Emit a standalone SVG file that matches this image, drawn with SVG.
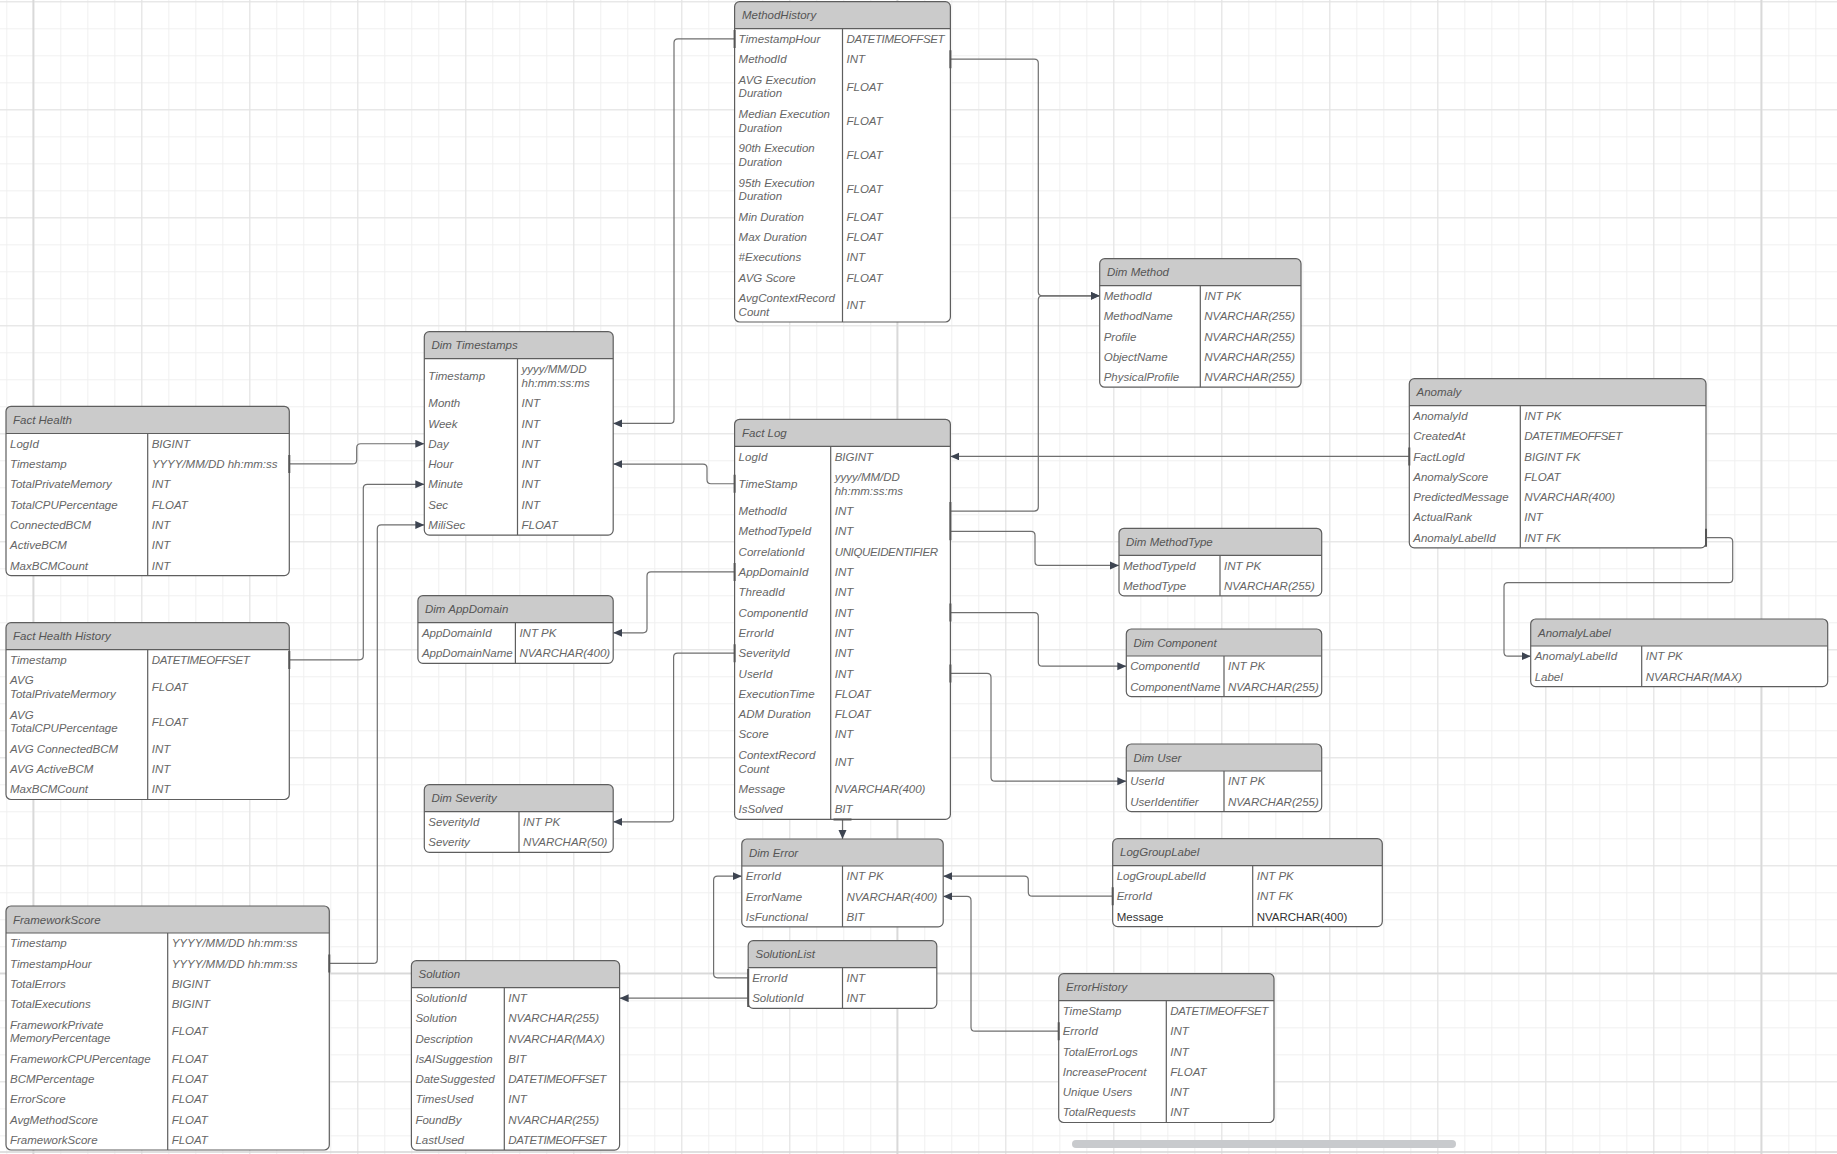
<svg xmlns="http://www.w3.org/2000/svg" width="1837" height="1154" viewBox="0 0 1837 1154">
<style>
.bg{fill:#fff}
.ol{fill:none;stroke:#5e5e5e;stroke-width:1.2}
.hd{fill:#cbcbcb}
.ln{stroke:#5e5e5e;stroke-width:1.2;fill:none}
.ht{font-family:"Liberation Sans",Arial,sans-serif;font-size:11.5px;font-style:italic;fill:#555}
.t text{font-family:"Liberation Sans",Arial,sans-serif;font-size:11.5px;font-style:italic;fill:#666}
.t text.n{font-style:normal;fill:#333}
.t text.c{letter-spacing:-0.35px}
.cn{fill:none;stroke:#6f6f6f;stroke-width:1.2;marker-end:url(#arr)}
.tk{stroke:#555;stroke-width:2}
</style>
<defs>
<pattern id="minor" width="27" height="27" patternUnits="userSpaceOnUse" x="6.3" y="1.3">
<path d="M0,0.5 H27 M0.5,0 V27" stroke="#f0f0f0" stroke-width="1" fill="none"/>
</pattern>
<pattern id="major" width="108" height="108" patternUnits="userSpaceOnUse" x="33.3" y="1.3">
<path d="M0,0.5 H108 M0.5,0 V108" stroke="#e3e3e3" stroke-width="1" fill="none"/>
</pattern>
<marker id="arr" markerWidth="10" markerHeight="9" refX="9" refY="4" orient="auto" markerUnits="userSpaceOnUse">
<path d="M0,0 L9,4 L0,8 Z" fill="#3d4451"/>
</marker>
</defs>
<rect width="1837" height="1154" fill="#fff"/>
<rect width="1837" height="1154" fill="url(#minor)"/>
<rect width="1837" height="1154" fill="url(#major)"/>
<path d="M33.3,0 V1154 M897.3,0 V1154 M1761.3,0 V1154 M0,973.3 H1837" stroke="#d9d9d9" stroke-width="1.8"/>
<path d="M0,1152 H1837" stroke="#d6d6d6" stroke-width="1.5"/>
<rect x="1072" y="1140" width="384" height="8" rx="4" fill="#c8cacd"/>

<g id="connectors">
<path class="cn" d="M734.6,38.85 H678 Q674,38.85 674,42.85 V419.45 Q674,423.45 670,423.45 H613.2"/>
<path class="cn" d="M950.4,59.15 H1034.3 Q1038.3,59.15 1038.3,63.15 V291.85 Q1038.3,295.85 1042.3,295.85 H1099.7"/>
<path class="cn" d="M950.4,511.05 H1034.3 Q1038.3,511.05 1038.3,507.05 V299.85 Q1038.3,295.85 1042.3,295.85 H1099.7"/>
<path class="cn" d="M289.3,463.95 H352.7 Q356.7,463.95 356.7,459.95 V447.75 Q356.7,443.75 360.7,443.75 H424.3"/>
<path class="cn" d="M289.3,659.85 H359.3 Q363.3,659.85 363.3,655.85 V488.35 Q363.3,484.35 367.3,484.35 H424.3"/>
<path class="cn" d="M329.3,963.45 H373.3 Q377.3,963.45 377.3,959.45 V528.95 Q377.3,524.95 381.3,524.95 H424.3"/>
<path class="cn" d="M734.6,483.75 H711 Q707,483.75 707,479.75 V468.05 Q707,464.05 703,464.05 H613.2"/>
<path class="cn" d="M734.6,571.95 H651 Q647,571.95 647,575.95 V628.85 Q647,632.85 643,632.85 H613.2"/>
<path class="cn" d="M734.6,653.15 H677.6 Q673.6,653.15 673.6,657.15 V817.85 Q673.6,821.85 669.6,821.85 H613.2"/>
<path class="cn" d="M1409.3,456.45 H950.4"/>
<path class="cn" d="M950.4,531.35 H1031 Q1035,531.35 1035,535.35 V561.45 Q1035,565.45 1039,565.45 H1119"/>
<path class="cn" d="M950.4,612.55 H1034.3 Q1038.3,612.55 1038.3,616.55 V662.15 Q1038.3,666.15 1042.3,666.15 H1126.3"/>
<path class="cn" d="M950.4,673.45 H987 Q991,673.45 991,677.45 V777.15 Q991,781.15 995,781.15 H1126.3"/>
<path class="cn" d="M842.5,819.4 V839"/>
<path class="cn" d="M1706,537.65 H1728.7 Q1732.7,537.65 1732.7,541.65 V578.7 Q1732.7,582.7 1728.7,582.7 H1508 Q1504,582.7 1504,586.7 V652.15 Q1504,656.15 1508,656.15 H1530.7"/>
<path class="cn" d="M748.2,977.85 H717.6 Q713.6,977.85 713.6,973.85 V880.15 Q713.6,876.15 717.6,876.15 H741.8"/>
<path class="cn" d="M748.2,998.15 H619.6"/>
<path class="cn" d="M1112.7,896.15 H1032.3 Q1028.3,896.15 1028.3,892.15 V880.15 Q1028.3,876.15 1024.3,876.15 H943.2"/>
<path class="cn" d="M1058.7,1031.15 H975 Q971,1031.15 971,1027.15 V900.45 Q971,896.45 967,896.45 H943.2"/>
</g>

<g id="MethodHistory">
<rect class="bg" x="734.6" y="1.7" width="215.8" height="320.3" rx="5"/>
<path class="hd" d="M734.6,28.7 V6.7 Q734.6,1.7 739.6,1.7 H945.4 Q950.4,1.7 950.4,6.7 V28.7 Z"/>
<rect class="ol" x="734.6" y="1.7" width="215.8" height="320.3" rx="5"/>
<path class="ln" d="M734.6,28.7 H950.4 M842.5,28.7 V322"/>
<text class="ht" x="742" y="19.2">MethodHistory</text>
<g class="t">
<text x="738.6" y="42.9">TimestampHour</text><text class="c" x="846.5" y="42.9">DATETIMEOFFSET</text>
<text x="738.6" y="63.2">MethodId</text><text x="846.5" y="63.2">INT</text>
<text x="738.6" y="83.6">AVG Execution</text><text x="738.6" y="97.3">Duration</text><text x="846.5" y="90.5">FLOAT</text>
<text x="738.6" y="117.9">Median Execution</text><text x="738.6" y="131.6">Duration</text><text x="846.5" y="124.8">FLOAT</text>
<text x="738.6" y="152.2">90th Execution</text><text x="738.6" y="165.9">Duration</text><text x="846.5" y="159.1">FLOAT</text>
<text x="738.6" y="186.5">95th Execution</text><text x="738.6" y="200.2">Duration</text><text x="846.5" y="193.4">FLOAT</text>
<text x="738.6" y="220.7">Min Duration</text><text x="846.5" y="220.7">FLOAT</text>
<text x="738.6" y="241">Max Duration</text><text x="846.5" y="241">FLOAT</text>
<text x="738.6" y="261.3">#Executions</text><text x="846.5" y="261.3">INT</text>
<text x="738.6" y="281.6">AVG Score</text><text x="846.5" y="281.6">FLOAT</text>
<text x="738.6" y="302">AvgContextRecord</text><text x="738.6" y="315.7">Count</text><text x="846.5" y="308.9">INT</text>
</g>
</g>

<g id="DimMethod">
<rect class="bg" x="1099.7" y="258.7" width="201.3" height="128.5" rx="5"/>
<path class="hd" d="M1099.7,285.7 V263.7 Q1099.7,258.7 1104.7,258.7 H1296 Q1301,258.7 1301,263.7 V285.7 Z"/>
<rect class="ol" x="1099.7" y="258.7" width="201.3" height="128.5" rx="5"/>
<path class="ln" d="M1099.7,285.7 H1301 M1200.3,285.7 V387.2"/>
<text class="ht" x="1107" y="276.2">Dim Method</text>
<g class="t">
<text x="1103.7" y="299.9">MethodId</text><text x="1204.3" y="299.9">INT PK</text>
<text x="1103.7" y="320.2">MethodName</text><text x="1204.3" y="320.2">NVARCHAR(255)</text>
<text x="1103.7" y="340.5">Profile</text><text x="1204.3" y="340.5">NVARCHAR(255)</text>
<text x="1103.7" y="360.8">ObjectName</text><text x="1204.3" y="360.8">NVARCHAR(255)</text>
<text x="1103.7" y="381.1">PhysicalProfile</text><text x="1204.3" y="381.1">NVARCHAR(255)</text>
</g>
</g>

<g id="DimTimestamps">
<rect class="bg" x="424.3" y="331.7" width="188.9" height="203.4" rx="5"/>
<path class="hd" d="M424.3,358.7 V336.7 Q424.3,331.7 429.3,331.7 H608.2 Q613.2,331.7 613.2,336.7 V358.7 Z"/>
<rect class="ol" x="424.3" y="331.7" width="188.9" height="203.4" rx="5"/>
<path class="ln" d="M424.3,358.7 H613.2 M517.5,358.7 V535.1"/>
<text class="ht" x="431.5" y="349.2">Dim Timestamps</text>
<g class="t">
<text x="428.3" y="379.9">Timestamp</text><text x="521.5" y="373">yyyy/MM/DD</text><text x="521.5" y="386.7">hh:mm:ss:ms</text>
<text x="428.3" y="407.2">Month</text><text x="521.5" y="407.2">INT</text>
<text x="428.3" y="427.5">Week</text><text x="521.5" y="427.5">INT</text>
<text x="428.3" y="447.8">Day</text><text x="521.5" y="447.8">INT</text>
<text x="428.3" y="468.1">Hour</text><text x="521.5" y="468.1">INT</text>
<text x="428.3" y="488.4">Minute</text><text x="521.5" y="488.4">INT</text>
<text x="428.3" y="508.7">Sec</text><text x="521.5" y="508.7">INT</text>
<text x="428.3" y="529">MiliSec</text><text x="521.5" y="529">FLOAT</text>
</g>
</g>

<g id="FactHealth">
<rect class="bg" x="6" y="406.3" width="283.3" height="169.3" rx="5"/>
<path class="hd" d="M6,433.5 V411.3 Q6,406.3 11,406.3 H284.3 Q289.3,406.3 289.3,411.3 V433.5 Z"/>
<rect class="ol" x="6" y="406.3" width="283.3" height="169.3" rx="5"/>
<path class="ln" d="M6,433.5 H289.3 M147.7,433.5 V575.6"/>
<text class="ht" x="13" y="423.8">Fact Health</text>
<g class="t">
<text x="10" y="447.7">LogId</text><text x="151.7" y="447.7">BIGINT</text>
<text x="10" y="468">Timestamp</text><text x="151.7" y="468">YYYY/MM/DD hh:mm:ss</text>
<text x="10" y="488.3">TotalPrivateMemory</text><text x="151.7" y="488.3">INT</text>
<text x="10" y="508.6">TotalCPUPercentage</text><text x="151.7" y="508.6">FLOAT</text>
<text x="10" y="528.9">ConnectedBCM</text><text x="151.7" y="528.9">INT</text>
<text x="10" y="549.2">ActiveBCM</text><text x="151.7" y="549.2">INT</text>
<text x="10" y="569.5">MaxBCMCount</text><text x="151.7" y="569.5">INT</text>
</g>
</g>

<g id="FactHealthHistory">
<rect class="bg" x="6" y="622.7" width="283.3" height="176.8" rx="5"/>
<path class="hd" d="M6,649.7 V627.7 Q6,622.7 11,622.7 H284.3 Q289.3,622.7 289.3,627.7 V649.7 Z"/>
<rect class="ol" x="6" y="622.7" width="283.3" height="176.8" rx="5"/>
<path class="ln" d="M6,649.7 H289.3 M147.7,649.7 V799.5"/>
<text class="ht" x="13" y="640.2">Fact Health History</text>
<g class="t">
<text x="10" y="663.9">Timestamp</text><text class="c" x="151.7" y="663.9">DATETIMEOFFSET</text>
<text x="10" y="684.3">AVG</text><text x="10" y="698">TotalPrivateMermory</text><text x="151.7" y="691.2">FLOAT</text>
<text x="10" y="718.6">AVG</text><text x="10" y="732.3">TotalCPUPercentage</text><text x="151.7" y="725.5">FLOAT</text>
<text x="10" y="752.8">AVG ConnectedBCM</text><text x="151.7" y="752.8">INT</text>
<text x="10" y="773.1">AVG ActiveBCM</text><text x="151.7" y="773.1">INT</text>
<text x="10" y="793.4">MaxBCMCount</text><text x="151.7" y="793.4">INT</text>
</g>
</g>

<g id="FrameworkScore">
<rect class="bg" x="6" y="906" width="323.3" height="244" rx="5"/>
<path class="hd" d="M6,933 V911 Q6,906 11,906 H324.3 Q329.3,906 329.3,911 V933 Z"/>
<rect class="ol" x="6" y="906" width="323.3" height="244" rx="5"/>
<path class="ln" d="M6,933 H329.3 M167.7,933 V1150"/>
<text class="ht" x="13" y="923.5">FrameworkScore</text>
<g class="t">
<text x="10" y="947.2">Timestamp</text><text x="171.7" y="947.2">YYYY/MM/DD hh:mm:ss</text>
<text x="10" y="967.5">TimestampHour</text><text x="171.7" y="967.5">YYYY/MM/DD hh:mm:ss</text>
<text x="10" y="987.8">TotalErrors</text><text x="171.7" y="987.8">BIGINT</text>
<text x="10" y="1008.1">TotalExecutions</text><text x="171.7" y="1008.1">BIGINT</text>
<text x="10" y="1028.5">FrameworkPrivate</text><text x="10" y="1042.2">MemoryPercentage</text><text x="171.7" y="1035.4">FLOAT</text>
<text x="10" y="1062.7">FrameworkCPUPercentage</text><text x="171.7" y="1062.7">FLOAT</text>
<text x="10" y="1083">BCMPercentage</text><text x="171.7" y="1083">FLOAT</text>
<text x="10" y="1103.3">ErrorScore</text><text x="171.7" y="1103.3">FLOAT</text>
<text x="10" y="1123.6">AvgMethodScore</text><text x="171.7" y="1123.6">FLOAT</text>
<text x="10" y="1143.9">FrameworkScore</text><text x="171.7" y="1143.9">FLOAT</text>
</g>
</g>

<g id="FactLog">
<rect class="bg" x="734.6" y="419.3" width="215.8" height="400.1" rx="5"/>
<path class="hd" d="M734.6,446.3 V424.3 Q734.6,419.3 739.6,419.3 H945.4 Q950.4,419.3 950.4,424.3 V446.3 Z"/>
<rect class="ol" x="734.6" y="419.3" width="215.8" height="400.1" rx="5"/>
<path class="ln" d="M734.6,446.3 H950.4 M830.7,446.3 V819.4"/>
<text class="ht" x="742" y="436.8">Fact Log</text>
<g class="t">
<text x="738.6" y="460.5">LogId</text><text x="834.7" y="460.5">BIGINT</text>
<text x="738.6" y="487.8">TimeStamp</text><text x="834.7" y="480.9">yyyy/MM/DD</text><text x="834.7" y="494.6">hh:mm:ss:ms</text>
<text x="738.6" y="515.1">MethodId</text><text x="834.7" y="515.1">INT</text>
<text x="738.6" y="535.4">MethodTypeId</text><text x="834.7" y="535.4">INT</text>
<text x="738.6" y="555.7">CorrelationId</text><text class="c" x="834.7" y="555.7">UNIQUEIDENTIFIER</text>
<text x="738.6" y="576">AppDomainId</text><text x="834.7" y="576">INT</text>
<text x="738.6" y="596.3">ThreadId</text><text x="834.7" y="596.3">INT</text>
<text x="738.6" y="616.6">ComponentId</text><text x="834.7" y="616.6">INT</text>
<text x="738.6" y="636.9">ErrorId</text><text x="834.7" y="636.9">INT</text>
<text x="738.6" y="657.2">SeverityId</text><text x="834.7" y="657.2">INT</text>
<text x="738.6" y="677.5">UserId</text><text x="834.7" y="677.5">INT</text>
<text x="738.6" y="697.8">ExecutionTime</text><text x="834.7" y="697.8">FLOAT</text>
<text x="738.6" y="718.1">ADM Duration</text><text x="834.7" y="718.1">FLOAT</text>
<text x="738.6" y="738.4">Score</text><text x="834.7" y="738.4">INT</text>
<text x="738.6" y="758.8">ContextRecord</text><text x="738.6" y="772.5">Count</text><text x="834.7" y="765.7">INT</text>
<text x="738.6" y="793">Message</text><text x="834.7" y="793">NVARCHAR(400)</text>
<text x="738.6" y="813.3">IsSolved</text><text x="834.7" y="813.3">BIT</text>
</g>
</g>

<g id="DimMethodType">
<rect class="bg" x="1119" y="528.3" width="202.7" height="67.6" rx="5"/>
<path class="hd" d="M1119,555.3 V533.3 Q1119,528.3 1124,528.3 H1316.7 Q1321.7,528.3 1321.7,533.3 V555.3 Z"/>
<rect class="ol" x="1119" y="528.3" width="202.7" height="67.6" rx="5"/>
<path class="ln" d="M1119,555.3 H1321.7 M1220,555.3 V595.9"/>
<text class="ht" x="1126" y="545.8">Dim MethodType</text>
<g class="t">
<text x="1123" y="569.5">MethodTypeId</text><text x="1224" y="569.5">INT PK</text>
<text x="1123" y="589.8">MethodType</text><text x="1224" y="589.8">NVARCHAR(255)</text>
</g>
</g>

<g id="DimComponent">
<rect class="bg" x="1126.3" y="629" width="195.4" height="67.6" rx="5"/>
<path class="hd" d="M1126.3,656 V634 Q1126.3,629 1131.3,629 H1316.7 Q1321.7,629 1321.7,634 V656 Z"/>
<rect class="ol" x="1126.3" y="629" width="195.4" height="67.6" rx="5"/>
<path class="ln" d="M1126.3,656 H1321.7 M1224,656 V696.6"/>
<text class="ht" x="1133.5" y="646.5">Dim Component</text>
<g class="t">
<text x="1130.3" y="670.2">ComponentId</text><text x="1228" y="670.2">INT PK</text>
<text x="1130.3" y="690.5">ComponentName</text><text x="1228" y="690.5">NVARCHAR(255)</text>
</g>
</g>

<g id="DimUser">
<rect class="bg" x="1126.3" y="744" width="195.4" height="67.6" rx="5"/>
<path class="hd" d="M1126.3,771 V749 Q1126.3,744 1131.3,744 H1316.7 Q1321.7,744 1321.7,749 V771 Z"/>
<rect class="ol" x="1126.3" y="744" width="195.4" height="67.6" rx="5"/>
<path class="ln" d="M1126.3,771 H1321.7 M1224,771 V811.6"/>
<text class="ht" x="1133.5" y="761.5">Dim User</text>
<g class="t">
<text x="1130.3" y="785.2">UserId</text><text x="1228" y="785.2">INT PK</text>
<text x="1130.3" y="805.5">UserIdentifier</text><text x="1228" y="805.5">NVARCHAR(255)</text>
</g>
</g>

<g id="Anomaly">
<rect class="bg" x="1409.3" y="378.7" width="296.7" height="169.1" rx="5"/>
<path class="hd" d="M1409.3,405.7 V383.7 Q1409.3,378.7 1414.3,378.7 H1701 Q1706,378.7 1706,383.7 V405.7 Z"/>
<rect class="ol" x="1409.3" y="378.7" width="296.7" height="169.1" rx="5"/>
<path class="ln" d="M1409.3,405.7 H1706 M1520.3,405.7 V547.8"/>
<text class="ht" x="1416.5" y="396.2">Anomaly</text>
<g class="t">
<text x="1413.3" y="419.9">AnomalyId</text><text x="1524.3" y="419.9">INT PK</text>
<text x="1413.3" y="440.2">CreatedAt</text><text class="c" x="1524.3" y="440.2">DATETIMEOFFSET</text>
<text x="1413.3" y="460.5">FactLogId</text><text x="1524.3" y="460.5">BIGINT FK</text>
<text x="1413.3" y="480.8">AnomalyScore</text><text x="1524.3" y="480.8">FLOAT</text>
<text x="1413.3" y="501.1">PredictedMessage</text><text x="1524.3" y="501.1">NVARCHAR(400)</text>
<text x="1413.3" y="521.4">ActualRank</text><text x="1524.3" y="521.4">INT</text>
<text x="1413.3" y="541.7">AnomalyLabelId</text><text x="1524.3" y="541.7">INT FK</text>
</g>
</g>

<g id="AnomalyLabel">
<rect class="bg" x="1530.7" y="619" width="297" height="67.6" rx="5"/>
<path class="hd" d="M1530.7,646 V624 Q1530.7,619 1535.7,619 H1822.7 Q1827.7,619 1827.7,624 V646 Z"/>
<rect class="ol" x="1530.7" y="619" width="297" height="67.6" rx="5"/>
<path class="ln" d="M1530.7,646 H1827.7 M1641.7,646 V686.6"/>
<text class="ht" x="1538" y="636.5">AnomalyLabel</text>
<g class="t">
<text x="1534.7" y="660.2">AnomalyLabelId</text><text x="1645.7" y="660.2">INT PK</text>
<text x="1534.7" y="680.5">Label</text><text x="1645.7" y="680.5">NVARCHAR(MAX)</text>
</g>
</g>

<g id="DimAppDomain">
<rect class="bg" x="417.9" y="595.7" width="195.3" height="67.6" rx="5"/>
<path class="hd" d="M417.9,622.7 V600.7 Q417.9,595.7 422.9,595.7 H608.2 Q613.2,595.7 613.2,600.7 V622.7 Z"/>
<rect class="ol" x="417.9" y="595.7" width="195.3" height="67.6" rx="5"/>
<path class="ln" d="M417.9,622.7 H613.2 M515.4,622.7 V663.3"/>
<text class="ht" x="425" y="613.2">Dim AppDomain</text>
<g class="t">
<text x="421.9" y="636.9">AppDomainId</text><text x="519.4" y="636.9">INT PK</text>
<text x="421.9" y="657.2">AppDomainName</text><text x="519.4" y="657.2">NVARCHAR(400)</text>
</g>
</g>

<g id="DimSeverity">
<rect class="bg" x="424.3" y="784.7" width="188.9" height="67.6" rx="5"/>
<path class="hd" d="M424.3,811.7 V789.7 Q424.3,784.7 429.3,784.7 H608.2 Q613.2,784.7 613.2,789.7 V811.7 Z"/>
<rect class="ol" x="424.3" y="784.7" width="188.9" height="67.6" rx="5"/>
<path class="ln" d="M424.3,811.7 H613.2 M519,811.7 V852.3"/>
<text class="ht" x="431.5" y="802.2">Dim Severity</text>
<g class="t">
<text x="428.3" y="825.9">SeverityId</text><text x="523" y="825.9">INT PK</text>
<text x="428.3" y="846.2">Severity</text><text x="523" y="846.2">NVARCHAR(50)</text>
</g>
</g>

<g id="DimError">
<rect class="bg" x="741.8" y="839" width="201.4" height="87.9" rx="5"/>
<path class="hd" d="M741.8,866 V844 Q741.8,839 746.8,839 H938.2 Q943.2,839 943.2,844 V866 Z"/>
<rect class="ol" x="741.8" y="839" width="201.4" height="87.9" rx="5"/>
<path class="ln" d="M741.8,866 H943.2 M842.5,866 V926.9"/>
<text class="ht" x="749" y="856.5">Dim Error</text>
<g class="t">
<text x="745.8" y="880.2">ErrorId</text><text x="846.5" y="880.2">INT PK</text>
<text x="745.8" y="900.5">ErrorName</text><text x="846.5" y="900.5">NVARCHAR(400)</text>
<text x="745.8" y="920.8">IsFunctional</text><text x="846.5" y="920.8">BIT</text>
</g>
</g>

<g id="SolutionList">
<rect class="bg" x="748.2" y="940.7" width="188.6" height="67.6" rx="5"/>
<path class="hd" d="M748.2,967.7 V945.7 Q748.2,940.7 753.2,940.7 H931.8 Q936.8,940.7 936.8,945.7 V967.7 Z"/>
<rect class="ol" x="748.2" y="940.7" width="188.6" height="67.6" rx="5"/>
<path class="ln" d="M748.2,967.7 H936.8 M842.5,967.7 V1008.3"/>
<text class="ht" x="755.5" y="958.2">SolutionList</text>
<g class="t">
<text x="752.2" y="981.9">ErrorId</text><text x="846.5" y="981.9">INT</text>
<text x="752.2" y="1002.2">SolutionId</text><text x="846.5" y="1002.2">INT</text>
</g>
</g>

<g id="Solution">
<rect class="bg" x="411.4" y="960.7" width="208.2" height="189.4" rx="5"/>
<path class="hd" d="M411.4,987.7 V965.7 Q411.4,960.7 416.4,960.7 H614.6 Q619.6,960.7 619.6,965.7 V987.7 Z"/>
<rect class="ol" x="411.4" y="960.7" width="208.2" height="189.4" rx="5"/>
<path class="ln" d="M411.4,987.7 H619.6 M504.3,987.7 V1150.1"/>
<text class="ht" x="418.5" y="978.2">Solution</text>
<g class="t">
<text x="415.4" y="1001.9">SolutionId</text><text x="508.3" y="1001.9">INT</text>
<text x="415.4" y="1022.2">Solution</text><text x="508.3" y="1022.2">NVARCHAR(255)</text>
<text x="415.4" y="1042.5">Description</text><text x="508.3" y="1042.5">NVARCHAR(MAX)</text>
<text x="415.4" y="1062.8">IsAISuggestion</text><text x="508.3" y="1062.8">BIT</text>
<text x="415.4" y="1083.1">DateSuggested</text><text class="c" x="508.3" y="1083.1">DATETIMEOFFSET</text>
<text x="415.4" y="1103.4">TimesUsed</text><text x="508.3" y="1103.4">INT</text>
<text x="415.4" y="1123.7">FoundBy</text><text x="508.3" y="1123.7">NVARCHAR(255)</text>
<text x="415.4" y="1144">LastUsed</text><text class="c" x="508.3" y="1144">DATETIMEOFFSET</text>
</g>
</g>

<g id="LogGroupLabel">
<rect class="bg" x="1112.7" y="838.7" width="269.6" height="87.9" rx="5"/>
<path class="hd" d="M1112.7,865.7 V843.7 Q1112.7,838.7 1117.7,838.7 H1377.3 Q1382.3,838.7 1382.3,843.7 V865.7 Z"/>
<rect class="ol" x="1112.7" y="838.7" width="269.6" height="87.9" rx="5"/>
<path class="ln" d="M1112.7,865.7 H1382.3 M1252.7,865.7 V926.6"/>
<text class="ht" x="1120" y="856.2">LogGroupLabel</text>
<g class="t">
<text x="1116.7" y="879.9">LogGroupLabelId</text><text x="1256.7" y="879.9">INT PK</text>
<text x="1116.7" y="900.2">ErrorId</text><text x="1256.7" y="900.2">INT FK</text>
<text class="n" x="1116.7" y="920.5">Message</text><text class="n" x="1256.7" y="920.5">NVARCHAR(400)</text>
</g>
</g>

<g id="ErrorHistory">
<rect class="bg" x="1058.7" y="973.7" width="215.3" height="148.8" rx="5"/>
<path class="hd" d="M1058.7,1000.7 V978.7 Q1058.7,973.7 1063.7,973.7 H1269 Q1274,973.7 1274,978.7 V1000.7 Z"/>
<rect class="ol" x="1058.7" y="973.7" width="215.3" height="148.8" rx="5"/>
<path class="ln" d="M1058.7,1000.7 H1274 M1166.3,1000.7 V1122.5"/>
<text class="ht" x="1066" y="991.2">ErrorHistory</text>
<g class="t">
<text x="1062.7" y="1014.9">TimeStamp</text><text class="c" x="1170.3" y="1014.9">DATETIMEOFFSET</text>
<text x="1062.7" y="1035.2">ErrorId</text><text x="1170.3" y="1035.2">INT</text>
<text x="1062.7" y="1055.5">TotalErrorLogs</text><text x="1170.3" y="1055.5">INT</text>
<text x="1062.7" y="1075.8">IncreaseProcent</text><text x="1170.3" y="1075.8">FLOAT</text>
<text x="1062.7" y="1096.1">Unique Users</text><text x="1170.3" y="1096.1">INT</text>
<text x="1062.7" y="1116.4">TotalRequests</text><text x="1170.3" y="1116.4">INT</text>
</g>
</g>

<g id="connector-ends">
<path class="tk" d="M734.6,29.9 V47.9 M950.4,50.2 V68.2 M289.3,455 V473 M289.3,650.9 V668.9 M329.3,954.5 V972.5 M734.6,474.8 V492.8 M734.6,563 V581 M734.6,644.2 V662.2 M950.4,502.1 V540.3 M950.4,603.6 V621.6 M950.4,664.5 V682.5 M1409.3,447.5 V465.5 M1706,528.7 V546.7 M748.2,968.9 V1007.1 M1112.7,887.2 V905.2 M1058.7,1022.2 V1040.2 M833.5,819.4 H851.5"/>
</g>
</svg>
